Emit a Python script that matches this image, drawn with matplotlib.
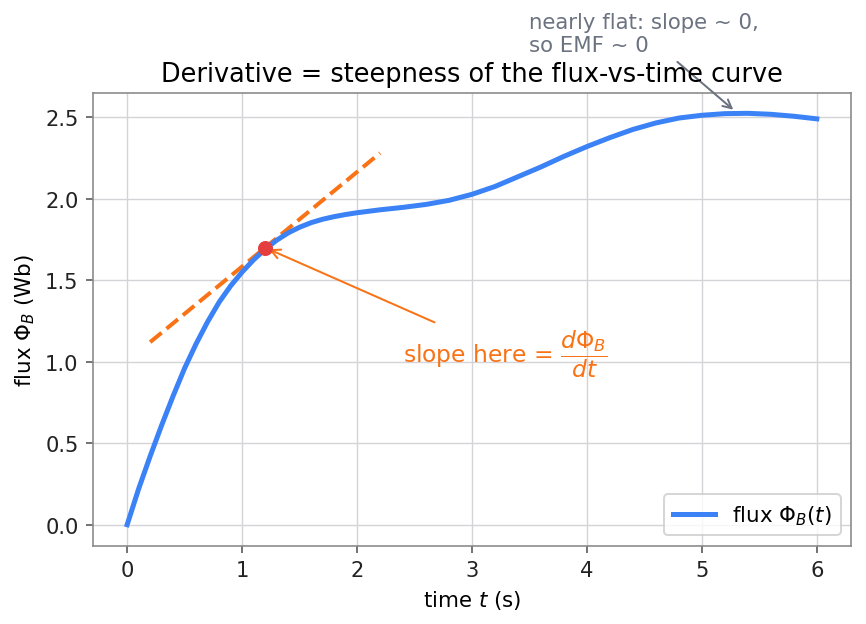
import numpy as np
import matplotlib
matplotlib.use("Agg")
import matplotlib.pyplot as plt

# flux curve
t = [0.0, 0.1, 0.2, 0.3, 0.4, 0.5, 0.6, 0.7, 0.8, 0.9, 1.0, 1.1, 1.2, 1.3, 1.4,
     1.5, 1.6, 1.7, 1.8, 1.9, 2.0, 2.2, 2.4, 2.6, 2.8, 3.0, 3.2, 3.4, 3.6, 3.8,
     4.0, 4.2, 4.4, 4.6, 4.8, 5.0, 5.2, 5.4, 5.6, 5.8, 6.0]
flux = [0.0, 0.22, 0.42, 0.61, 0.79, 0.96, 1.11, 1.245, 1.365, 1.465, 1.55, 1.625, 1.69, 1.745, 1.79,
        1.825, 1.853, 1.874, 1.89, 1.903, 1.914, 1.932, 1.947, 1.965, 1.99, 2.027, 2.075, 2.135, 2.195, 2.26,
        2.32, 2.375, 2.425, 2.465, 2.495, 2.512, 2.522, 2.524, 2.518, 2.506, 2.49]

# tangent at t0
t0 = 1.2
flux0 = 1.70
tan_t = [0.2, 2.2]
tan_y = [1.12, 2.28]

# flat spot
flat_t = 5.3
flat_y = 2.53

blue = "#3b82f6"
orange = "#f97316"
red = "#e53e3e"
gray = "#6b7280"

plt.rcParams["font.family"] = ["DejaVu Sans"]

fig, ax = plt.subplots(figsize=(6.014, 4.34), dpi=144)
fig.subplots_adjust(left=0.107, right=0.983, bottom=0.125, top=0.85)

ax.plot(t, flux, color=blue, lw=2.5, label=r"flux $\Phi_B(t)$", zorder=3,
        solid_joinstyle="round")
ax.plot(tan_t, tan_y, color=orange, lw=2, ls="--", zorder=2)
ax.plot([t0], [flux0], "o", color=red, ms=6.5, zorder=4)

ax.annotate(r"slope here = $\dfrac{d\Phi_B}{dt}$", xy=(t0, flux0), xytext=(2.4, 1.05),
            color=orange, fontsize=11.7, ha="left", va="center",
            arrowprops=dict(arrowstyle="->", color=orange, lw=1.0))
ax.annotate("nearly flat: slope ~ 0,\nso EMF ~ 0", xy=(flat_t, flat_y), xytext=(3.5, 2.88),
            color=gray, fontsize=10.6, ha="left", va="bottom", annotation_clip=False,
            arrowprops=dict(arrowstyle="->", color=gray, lw=1.0))

ax.set_xlim(-0.3, 6.3)
ax.set_ylim(-0.13, 2.65)
ax.set_xlabel(r"time $t$ (s)", fontsize=10.7)
ax.set_ylabel(r"flux $\Phi_B$ (Wb)", fontsize=10.7)
ax.set_title("Derivative = steepness of the flux-vs-time curve", fontsize=12.8)

ax.grid(True, color="#d4d4d8", lw=0.7)
ax.set_axisbelow(True)
for s in ax.spines.values():
    s.set_color("#888888")
ax.tick_params(colors="#555555", labelcolor="#222222", labelsize=10.5)
ax.legend(loc="lower right", fontsize=10.7)

fig.savefig("out.png", dpi=144)
